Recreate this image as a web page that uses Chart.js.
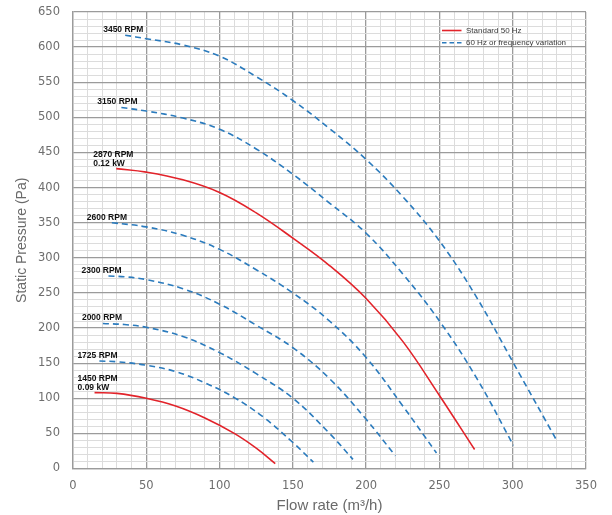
<!DOCTYPE html>
<html>
<head>
<meta charset="utf-8">
<script src="https://cdn.jsdelivr.net/npm/chart.js@4.4.1/dist/chart.umd.min.js"></script>
<style>
  html, body { margin: 0; padding: 0; background: #ffffff; }
  #wrap { width: 612px; height: 515px; position: relative; }
</style>
</head>
<body>
<div id="wrap"><canvas id="c" width="612" height="515"></canvas></div>
<script>
// ---------- DATA ----------
const curveNames = ['3450 RPM', '3150 RPM', '2870 RPM', '2600 RPM', '2300 RPM', '2000 RPM', '1725 RPM', '1450 RPM'];
const powerNotes = ['', '', '0.12 kW', '', '', '', '', '0.09 kW'];
const isStandard = [false, false, true, false, false, false, false, true];

const flow3450 = [35.6, 50, 75, 100, 125, 150, 175, 200, 225, 250, 275, 300, 330];
const pres3450 = [617, 612, 603, 587, 558, 524, 484, 440, 387, 324, 245, 152, 40];

const flow3150 = [33, 50, 75, 100, 125, 150, 175, 200, 225, 250, 275, 300.5];
const pres3150 = [514, 509, 499, 483, 455, 419, 378, 335, 277, 210, 130, 33];

const flow2870 = [29.5, 50, 75, 100, 125, 150, 175, 200, 225, 250, 274];
const pres2870 = [427, 422, 411, 393, 364, 328, 289, 242, 181, 104, 27];

const flow2600 = [26.5, 50, 75, 100, 125, 150, 175, 200, 225, 248];
const pres2600 = [350, 344, 332, 312, 283, 250, 210, 158, 89, 22];

const flow2300 = [24.2, 35, 50, 75, 100, 125, 150, 175, 200, 220];
const pres2300 = [274, 273, 269, 256, 234, 204, 172, 128, 70, 18];

const flow2000 = [20.4, 35, 50, 75, 100, 125, 150, 175, 191];
const pres2000 = [206.5, 205, 201, 188, 165, 135, 100, 50, 13];

const flow1725 = [18, 30, 50, 70, 90, 110, 130, 150, 164];
const pres1725 = [153, 152, 147, 138, 122, 101, 73, 37, 9];

const flow1450 = [14.7, 30, 50, 70, 90, 110, 125, 138];
const pres1450 = [108, 107, 100, 89, 72, 50, 29, 7];

const flows = [flow3450, flow3150, flow2870, flow2600, flow2300, flow2000, flow1725, flow1450];
const pressures = [pres3450, pres3150, pres2870, pres2600, pres2300, pres2000, pres1725, pres1450];

const legendLabels = ['Standard 50 Hz', '60 Hz or frequency variation'];
const xTitle = 'Flow rate (m³/h)';
const yTitle = 'Static Pressure (Pa)';

// ---------- STYLE ----------
const RED = '#e2232a';
const BLUE = '#2b7bbd';
const MAJOR = '#9b9b9b';
const MINOR = '#dcdcdc';
const TICK_COLOR = '#6e6e6e';
const labelDx = [-22, -24, -23, -25, -27, -21, -22, -17];

const datasets = flows.map((fx, i) => ({
  label: curveNames[i],
  data: fx.map((x, j) => ({ x: x, y: pressures[i][j] })),
  borderColor: isStandard[i] ? RED : BLUE,
  borderWidth: 1.6,
  borderDash: isStandard[i] ? [] : [6, 4],
  pointRadius: 0,
  fill: false,
  tension: 0.4
}));

const annotate = {
  id: 'annotate',
  afterDatasetsDraw(chart) {
    const ctx = chart.ctx;
    const xs = chart.scales.x, ys = chart.scales.y;
    ctx.save();
    ctx.fillStyle = '#111111';
    ctx.font = 'bold 8.5px "Liberation Sans", Arial, sans-serif';
    ctx.textBaseline = 'middle';
    ctx.textAlign = 'left';
    flows.forEach((fx, i) => {
      const px = xs.getPixelForValue(fx[0]);
      const py = ys.getPixelForValue(pressures[i][0]);
      const lx = px + labelDx[i];
      if (powerNotes[i]) {
        ctx.fillText(curveNames[i], lx, py - 13.5);
        ctx.fillText(powerNotes[i], lx, py - 4.5);
      } else {
        ctx.fillText(curveNames[i], lx, py - 5.5);
      }
    });
    const area = chart.chartArea;
    const lx0 = area.right - 144, ly0 = area.top + 18.5;
    ctx.lineWidth = 1.6;
    ctx.strokeStyle = RED;
    ctx.setLineDash([]);
    ctx.beginPath(); ctx.moveTo(lx0, ly0); ctx.lineTo(lx0 + 19.5, ly0); ctx.stroke();
    ctx.strokeStyle = BLUE;
    ctx.setLineDash([4.5, 3]);
    ctx.beginPath(); ctx.moveTo(lx0, ly0 + 12.3); ctx.lineTo(lx0 + 19.5, ly0 + 12.3); ctx.stroke();
    ctx.setLineDash([]);
    ctx.fillStyle = '#3a3a3a';
    ctx.font = '8px "Liberation Sans", Arial, sans-serif';
    ctx.fillText(legendLabels[0], lx0 + 24, ly0);
    ctx.fillText(legendLabels[1], lx0 + 24, ly0 + 12.3);
    ctx.restore();
  }
};

new Chart(document.getElementById('c'), {
  type: 'line',
  data: { datasets: datasets },
  options: {
    responsive: false,
    animation: false,
    devicePixelRatio: 1,
    layout: { padding: { left: 0, right: 26, top: 12, bottom: 0 } },
    plugins: { legend: { display: false }, tooltip: { enabled: false } },
    scales: {
      x: {
        type: 'linear',
        min: 0, max: 350,
        afterFit(scale) { scale.height = 46.5; scale.paddingLeft = 0; scale.paddingRight = 0; },
        ticks: {
          stepSize: 10,
          autoSkip: false,
          maxRotation: 0,
          padding: 11,
          color: TICK_COLOR,
          font: { family: '"DejaVu Sans", sans-serif', size: 11.5 },
          callback: (v) => (v % 50 === 0 ? String(v) : '')
        },
        grid: {
          drawTicks: false,
          color: (c) => (c.tick && c.tick.value % 50 === 0 ? MAJOR : MINOR),
          lineWidth: (c) => (c.tick && c.tick.value % 50 === 0 ? 1.3 : 1)
        },
        border: { display: true, color: MAJOR, width: 1.3 },
        title: {
          display: true,
          text: xTitle,
          color: '#6a6a6a',
          font: { family: '"Liberation Sans", Arial, sans-serif', size: 15 },
          padding: { top: 0, bottom: 0 }
        }
      },
      y: {
        type: 'linear',
        min: 0, max: 650,
        afterFit(scale) { scale.width = 73; scale.paddingTop = 0; scale.paddingBottom = 0; },
        ticks: {
          stepSize: 10,
          autoSkip: false,
          padding: 13,
          color: TICK_COLOR,
          font: { family: '"DejaVu Sans", sans-serif', size: 11.5 },
          callback: (v) => (v % 50 === 0 ? String(v) : '')
        },
        grid: {
          drawTicks: false,
          color: (c) => (c.tick && c.tick.value % 50 === 0 ? MAJOR : MINOR),
          lineWidth: (c) => (c.tick && c.tick.value % 50 === 0 ? 1.3 : 1)
        },
        border: { display: true, color: MAJOR, width: 1.3 },
        title: {
          display: true,
          text: yTitle,
          color: '#6a6a6a',
          font: { family: '"Liberation Sans", Arial, sans-serif', size: 14 },
          padding: { top: 14, bottom: 0 }
        }
      }
    }
  },
  plugins: [annotate]
});
</script>
</body>
</html>
